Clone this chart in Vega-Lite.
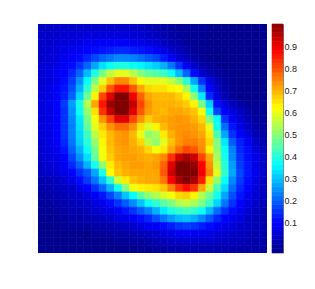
{"$schema":"https://vega.github.io/schema/vega-lite/v6.json","padding":{"left":38,"top":23,"right":0,"bottom":0},"autosize":{"type":"pad"},"background":"white","spacing":4,"config":{"view":{"stroke":null}},"resolve":{"scale":{"color":"independent"}},"hconcat":[{"width":229,"height":229,"data":{"values":[
{"x":0,"y":0,"v":0.02},{"x":1,"y":0,"v":0.02},{"x":2,"y":0,"v":0.03},{"x":3,"y":0,"v":0.03},{"x":4,"y":0,"v":0.03},{"x":5,"y":0,"v":0.03},{"x":6,"y":0,"v":0.03},{"x":7,"y":0,"v":0.03},{"x":8,"y":0,"v":0.03},{"x":9,"y":0,"v":0.03},{"x":10,"y":0,"v":0.03},{"x":11,"y":0,"v":0.03},{"x":12,"y":0,"v":0.03},{"x":13,"y":0,"v":0.02},{"x":14,"y":0,"v":0.01},{"x":15,"y":0,"v":0},{"x":16,"y":0,"v":-0.01},{"x":17,"y":0,"v":-0.02},{"x":18,"y":0,"v":-0.03},{"x":19,"y":0,"v":-0.03},{"x":20,"y":0,"v":-0.03},{"x":21,"y":0,"v":-0.03},{"x":22,"y":0,"v":-0.04},{"x":23,"y":0,"v":-0.04},{"x":24,"y":0,"v":-0.04},{"x":25,"y":0,"v":-0.04},{"x":26,"y":0,"v":-0.04},{"x":27,"y":0,"v":-0.04},{"x":28,"y":0,"v":-0.04},{"x":29,"y":0,"v":-0.04},
{"x":0,"y":1,"v":0.03},{"x":1,"y":1,"v":0.03},{"x":2,"y":1,"v":0.03},{"x":3,"y":1,"v":0.04},{"x":4,"y":1,"v":0.04},{"x":5,"y":1,"v":0.04},{"x":6,"y":1,"v":0.05},{"x":7,"y":1,"v":0.05},{"x":8,"y":1,"v":0.05},{"x":9,"y":1,"v":0.05},{"x":10,"y":1,"v":0.05},{"x":11,"y":1,"v":0.05},{"x":12,"y":1,"v":0.04},{"x":13,"y":1,"v":0.04},{"x":14,"y":1,"v":0.03},{"x":15,"y":1,"v":0.02},{"x":16,"y":1,"v":0},{"x":17,"y":1,"v":-0.01},{"x":18,"y":1,"v":-0.02},{"x":19,"y":1,"v":-0.03},{"x":20,"y":1,"v":-0.03},{"x":21,"y":1,"v":-0.03},{"x":22,"y":1,"v":-0.04},{"x":23,"y":1,"v":-0.04},{"x":24,"y":1,"v":-0.04},{"x":25,"y":1,"v":-0.04},{"x":26,"y":1,"v":-0.04},{"x":27,"y":1,"v":-0.04},{"x":28,"y":1,"v":-0.04},{"x":29,"y":1,"v":-0.04},
{"x":0,"y":2,"v":0.03},{"x":1,"y":2,"v":0.03},{"x":2,"y":2,"v":0.04},{"x":3,"y":2,"v":0.05},{"x":4,"y":2,"v":0.05},{"x":5,"y":2,"v":0.06},{"x":6,"y":2,"v":0.07},{"x":7,"y":2,"v":0.07},{"x":8,"y":2,"v":0.08},{"x":9,"y":2,"v":0.08},{"x":10,"y":2,"v":0.08},{"x":11,"y":2,"v":0.08},{"x":12,"y":2,"v":0.07},{"x":13,"y":2,"v":0.06},{"x":14,"y":2,"v":0.05},{"x":15,"y":2,"v":0.04},{"x":16,"y":2,"v":0.02},{"x":17,"y":2,"v":0},{"x":18,"y":2,"v":-0.01},{"x":19,"y":2,"v":-0.03},{"x":20,"y":2,"v":-0.03},{"x":21,"y":2,"v":-0.04},{"x":22,"y":2,"v":-0.04},{"x":23,"y":2,"v":-0.04},{"x":24,"y":2,"v":-0.04},{"x":25,"y":2,"v":-0.04},{"x":26,"y":2,"v":-0.04},{"x":27,"y":2,"v":-0.04},{"x":28,"y":2,"v":-0.04},{"x":29,"y":2,"v":-0.04},
{"x":0,"y":3,"v":0.03},{"x":1,"y":3,"v":0.04},{"x":2,"y":3,"v":0.05},{"x":3,"y":3,"v":0.06},{"x":4,"y":3,"v":0.07},{"x":5,"y":3,"v":0.08},{"x":6,"y":3,"v":0.09},{"x":7,"y":3,"v":0.1},{"x":8,"y":3,"v":0.11},{"x":9,"y":3,"v":0.12},{"x":10,"y":3,"v":0.13},{"x":11,"y":3,"v":0.13},{"x":12,"y":3,"v":0.12},{"x":13,"y":3,"v":0.11},{"x":14,"y":3,"v":0.1},{"x":15,"y":3,"v":0.08},{"x":16,"y":3,"v":0.06},{"x":17,"y":3,"v":0.03},{"x":18,"y":3,"v":0.01},{"x":19,"y":3,"v":-0.01},{"x":20,"y":3,"v":-0.03},{"x":21,"y":3,"v":-0.03},{"x":22,"y":3,"v":-0.04},{"x":23,"y":3,"v":-0.04},{"x":24,"y":3,"v":-0.04},{"x":25,"y":3,"v":-0.04},{"x":26,"y":3,"v":-0.04},{"x":27,"y":3,"v":-0.04},{"x":28,"y":3,"v":-0.04},{"x":29,"y":3,"v":-0.04},
{"x":0,"y":4,"v":0.03},{"x":1,"y":4,"v":0.04},{"x":2,"y":4,"v":0.05},{"x":3,"y":4,"v":0.07},{"x":4,"y":4,"v":0.08},{"x":5,"y":4,"v":0.1},{"x":6,"y":4,"v":0.13},{"x":7,"y":4,"v":0.16},{"x":8,"y":4,"v":0.19},{"x":9,"y":4,"v":0.21},{"x":10,"y":4,"v":0.23},{"x":11,"y":4,"v":0.23},{"x":12,"y":4,"v":0.22},{"x":13,"y":4,"v":0.2},{"x":14,"y":4,"v":0.18},{"x":15,"y":4,"v":0.16},{"x":16,"y":4,"v":0.12},{"x":17,"y":4,"v":0.08},{"x":18,"y":4,"v":0.04},{"x":19,"y":4,"v":0.01},{"x":20,"y":4,"v":-0.01},{"x":21,"y":4,"v":-0.03},{"x":22,"y":4,"v":-0.04},{"x":23,"y":4,"v":-0.04},{"x":24,"y":4,"v":-0.04},{"x":25,"y":4,"v":-0.04},{"x":26,"y":4,"v":-0.04},{"x":27,"y":4,"v":-0.04},{"x":28,"y":4,"v":-0.04},{"x":29,"y":4,"v":-0.04},
{"x":0,"y":5,"v":0.04},{"x":1,"y":5,"v":0.05},{"x":2,"y":5,"v":0.06},{"x":3,"y":5,"v":0.08},{"x":4,"y":5,"v":0.1},{"x":5,"y":5,"v":0.14},{"x":6,"y":5,"v":0.19},{"x":7,"y":5,"v":0.26},{"x":8,"y":5,"v":0.32},{"x":9,"y":5,"v":0.36},{"x":10,"y":5,"v":0.38},{"x":11,"y":5,"v":0.38},{"x":12,"y":5,"v":0.36},{"x":13,"y":5,"v":0.34},{"x":14,"y":5,"v":0.32},{"x":15,"y":5,"v":0.3},{"x":16,"y":5,"v":0.27},{"x":17,"y":5,"v":0.21},{"x":18,"y":5,"v":0.14},{"x":19,"y":5,"v":0.08},{"x":20,"y":5,"v":0.03},{"x":21,"y":5,"v":0},{"x":22,"y":5,"v":-0.02},{"x":23,"y":5,"v":-0.03},{"x":24,"y":5,"v":-0.04},{"x":25,"y":5,"v":-0.04},{"x":26,"y":5,"v":-0.04},{"x":27,"y":5,"v":-0.04},{"x":28,"y":5,"v":-0.04},{"x":29,"y":5,"v":-0.04},
{"x":0,"y":6,"v":0.04},{"x":1,"y":6,"v":0.05},{"x":2,"y":6,"v":0.07},{"x":3,"y":6,"v":0.09},{"x":4,"y":6,"v":0.13},{"x":5,"y":6,"v":0.19},{"x":6,"y":6,"v":0.28},{"x":7,"y":6,"v":0.38},{"x":8,"y":6,"v":0.47},{"x":9,"y":6,"v":0.54},{"x":10,"y":6,"v":0.58},{"x":11,"y":6,"v":0.58},{"x":12,"y":6,"v":0.54},{"x":13,"y":6,"v":0.49},{"x":14,"y":6,"v":0.45},{"x":15,"y":6,"v":0.43},{"x":16,"y":6,"v":0.41},{"x":17,"y":6,"v":0.36},{"x":18,"y":6,"v":0.28},{"x":19,"y":6,"v":0.19},{"x":20,"y":6,"v":0.1},{"x":21,"y":6,"v":0.04},{"x":22,"y":6,"v":0},{"x":23,"y":6,"v":-0.02},{"x":24,"y":6,"v":-0.03},{"x":25,"y":6,"v":-0.04},{"x":26,"y":6,"v":-0.04},{"x":27,"y":6,"v":-0.04},{"x":28,"y":6,"v":-0.04},{"x":29,"y":6,"v":-0.04},
{"x":0,"y":7,"v":0.04},{"x":1,"y":7,"v":0.05},{"x":2,"y":7,"v":0.07},{"x":3,"y":7,"v":0.1},{"x":4,"y":7,"v":0.15},{"x":5,"y":7,"v":0.24},{"x":6,"y":7,"v":0.35},{"x":7,"y":7,"v":0.48},{"x":8,"y":7,"v":0.58},{"x":9,"y":7,"v":0.67},{"x":10,"y":7,"v":0.73},{"x":11,"y":7,"v":0.73},{"x":12,"y":7,"v":0.67},{"x":13,"y":7,"v":0.6},{"x":14,"y":7,"v":0.58},{"x":15,"y":7,"v":0.58},{"x":16,"y":7,"v":0.58},{"x":17,"y":7,"v":0.55},{"x":18,"y":7,"v":0.49},{"x":19,"y":7,"v":0.39},{"x":20,"y":7,"v":0.26},{"x":21,"y":7,"v":0.14},{"x":22,"y":7,"v":0.06},{"x":23,"y":7,"v":0.01},{"x":24,"y":7,"v":-0.02},{"x":25,"y":7,"v":-0.03},{"x":26,"y":7,"v":-0.04},{"x":27,"y":7,"v":-0.04},{"x":28,"y":7,"v":-0.04},{"x":29,"y":7,"v":-0.04},
{"x":0,"y":8,"v":0.04},{"x":1,"y":8,"v":0.06},{"x":2,"y":8,"v":0.08},{"x":3,"y":8,"v":0.11},{"x":4,"y":8,"v":0.17},{"x":5,"y":8,"v":0.27},{"x":6,"y":8,"v":0.4},{"x":7,"y":8,"v":0.54},{"x":8,"y":8,"v":0.66},{"x":9,"y":8,"v":0.78},{"x":10,"y":8,"v":0.85},{"x":11,"y":8,"v":0.85},{"x":12,"y":8,"v":0.78},{"x":13,"y":8,"v":0.7},{"x":14,"y":8,"v":0.65},{"x":15,"y":8,"v":0.64},{"x":16,"y":8,"v":0.64},{"x":17,"y":8,"v":0.62},{"x":18,"y":8,"v":0.61},{"x":19,"y":8,"v":0.52},{"x":20,"y":8,"v":0.37},{"x":21,"y":8,"v":0.22},{"x":22,"y":8,"v":0.09},{"x":23,"y":8,"v":0.03},{"x":24,"y":8,"v":-0.01},{"x":25,"y":8,"v":-0.03},{"x":26,"y":8,"v":-0.04},{"x":27,"y":8,"v":-0.04},{"x":28,"y":8,"v":-0.04},{"x":29,"y":8,"v":-0.04},
{"x":0,"y":9,"v":0.05},{"x":1,"y":9,"v":0.06},{"x":2,"y":9,"v":0.08},{"x":3,"y":9,"v":0.12},{"x":4,"y":9,"v":0.19},{"x":5,"y":9,"v":0.31},{"x":6,"y":9,"v":0.46},{"x":7,"y":9,"v":0.62},{"x":8,"y":9,"v":0.8},{"x":9,"y":9,"v":0.9},{"x":10,"y":9,"v":1},{"x":11,"y":9,"v":1},{"x":12,"y":9,"v":0.88},{"x":13,"y":9,"v":0.77},{"x":14,"y":9,"v":0.7},{"x":15,"y":9,"v":0.68},{"x":16,"y":9,"v":0.68},{"x":17,"y":9,"v":0.68},{"x":18,"y":9,"v":0.66},{"x":19,"y":9,"v":0.62},{"x":20,"y":9,"v":0.49},{"x":21,"y":9,"v":0.33},{"x":22,"y":9,"v":0.13},{"x":23,"y":9,"v":0.05},{"x":24,"y":9,"v":0},{"x":25,"y":9,"v":-0.03},{"x":26,"y":9,"v":-0.04},{"x":27,"y":9,"v":-0.04},{"x":28,"y":9,"v":-0.04},{"x":29,"y":9,"v":-0.04},
{"x":0,"y":10,"v":0.05},{"x":1,"y":10,"v":0.06},{"x":2,"y":10,"v":0.09},{"x":3,"y":10,"v":0.15},{"x":4,"y":10,"v":0.25},{"x":5,"y":10,"v":0.37},{"x":6,"y":10,"v":0.53},{"x":7,"y":10,"v":0.7},{"x":8,"y":10,"v":0.85},{"x":9,"y":10,"v":0.97},{"x":10,"y":10,"v":1},{"x":11,"y":10,"v":1},{"x":12,"y":10,"v":0.93},{"x":13,"y":10,"v":0.8},{"x":14,"y":10,"v":0.72},{"x":15,"y":10,"v":0.69},{"x":16,"y":10,"v":0.69},{"x":17,"y":10,"v":0.69},{"x":18,"y":10,"v":0.68},{"x":19,"y":10,"v":0.66},{"x":20,"y":10,"v":0.62},{"x":21,"y":10,"v":0.47},{"x":22,"y":10,"v":0.3},{"x":23,"y":10,"v":0.1},{"x":24,"y":10,"v":0.05},{"x":25,"y":10,"v":0.01},{"x":26,"y":10,"v":-0.01},{"x":27,"y":10,"v":-0.03},{"x":28,"y":10,"v":-0.03},{"x":29,"y":10,"v":-0.03},
{"x":0,"y":11,"v":0.05},{"x":1,"y":11,"v":0.06},{"x":2,"y":11,"v":0.09},{"x":3,"y":11,"v":0.14},{"x":4,"y":11,"v":0.24},{"x":5,"y":11,"v":0.36},{"x":6,"y":11,"v":0.5},{"x":7,"y":11,"v":0.64},{"x":8,"y":11,"v":0.82},{"x":9,"y":11,"v":0.93},{"x":10,"y":11,"v":1},{"x":11,"y":11,"v":1},{"x":12,"y":11,"v":0.9},{"x":13,"y":11,"v":0.78},{"x":14,"y":11,"v":0.71},{"x":15,"y":11,"v":0.69},{"x":16,"y":11,"v":0.68},{"x":17,"y":11,"v":0.7},{"x":18,"y":11,"v":0.7},{"x":19,"y":11,"v":0.69},{"x":20,"y":11,"v":0.67},{"x":21,"y":11,"v":0.6},{"x":22,"y":11,"v":0.37},{"x":23,"y":11,"v":0.16},{"x":24,"y":11,"v":0.09},{"x":25,"y":11,"v":0.05},{"x":26,"y":11,"v":0.02},{"x":27,"y":11,"v":-0.01},{"x":28,"y":11,"v":-0.03},{"x":29,"y":11,"v":-0.03},
{"x":0,"y":12,"v":0.05},{"x":1,"y":12,"v":0.06},{"x":2,"y":12,"v":0.09},{"x":3,"y":12,"v":0.14},{"x":4,"y":12,"v":0.23},{"x":5,"y":12,"v":0.33},{"x":6,"y":12,"v":0.47},{"x":7,"y":12,"v":0.6},{"x":8,"y":12,"v":0.72},{"x":9,"y":12,"v":0.8},{"x":10,"y":12,"v":0.9},{"x":11,"y":12,"v":0.9},{"x":12,"y":12,"v":0.8},{"x":13,"y":12,"v":0.72},{"x":14,"y":12,"v":0.66},{"x":15,"y":12,"v":0.69},{"x":16,"y":12,"v":0.7},{"x":17,"y":12,"v":0.71},{"x":18,"y":12,"v":0.72},{"x":19,"y":12,"v":0.71},{"x":20,"y":12,"v":0.69},{"x":21,"y":12,"v":0.65},{"x":22,"y":12,"v":0.48},{"x":23,"y":12,"v":0.35},{"x":24,"y":12,"v":0.14},{"x":25,"y":12,"v":0.08},{"x":26,"y":12,"v":0.04},{"x":27,"y":12,"v":0.01},{"x":28,"y":12,"v":-0.02},{"x":29,"y":12,"v":-0.03},
{"x":0,"y":13,"v":0.05},{"x":1,"y":13,"v":0.06},{"x":2,"y":13,"v":0.09},{"x":3,"y":13,"v":0.14},{"x":4,"y":13,"v":0.22},{"x":5,"y":13,"v":0.32},{"x":6,"y":13,"v":0.45},{"x":7,"y":13,"v":0.58},{"x":8,"y":13,"v":0.66},{"x":9,"y":13,"v":0.72},{"x":10,"y":13,"v":0.76},{"x":11,"y":13,"v":0.76},{"x":12,"y":13,"v":0.72},{"x":13,"y":13,"v":0.64},{"x":14,"y":13,"v":0.57},{"x":15,"y":13,"v":0.62},{"x":16,"y":13,"v":0.68},{"x":17,"y":13,"v":0.71},{"x":18,"y":13,"v":0.72},{"x":19,"y":13,"v":0.72},{"x":20,"y":13,"v":0.71},{"x":21,"y":13,"v":0.68},{"x":22,"y":13,"v":0.58},{"x":23,"y":13,"v":0.37},{"x":24,"y":13,"v":0.2},{"x":25,"y":13,"v":0.11},{"x":26,"y":13,"v":0.06},{"x":27,"y":13,"v":0.03},{"x":28,"y":13,"v":-0.01},{"x":29,"y":13,"v":-0.02},
{"x":0,"y":14,"v":0.05},{"x":1,"y":14,"v":0.06},{"x":2,"y":14,"v":0.09},{"x":3,"y":14,"v":0.14},{"x":4,"y":14,"v":0.22},{"x":5,"y":14,"v":0.31},{"x":6,"y":14,"v":0.41},{"x":7,"y":14,"v":0.54},{"x":8,"y":14,"v":0.63},{"x":9,"y":14,"v":0.68},{"x":10,"y":14,"v":0.71},{"x":11,"y":14,"v":0.72},{"x":12,"y":14,"v":0.68},{"x":13,"y":14,"v":0.59},{"x":14,"y":14,"v":0.5},{"x":15,"y":14,"v":0.52},{"x":16,"y":14,"v":0.63},{"x":17,"y":14,"v":0.69},{"x":18,"y":14,"v":0.72},{"x":19,"y":14,"v":0.73},{"x":20,"y":14,"v":0.72},{"x":21,"y":14,"v":0.7},{"x":22,"y":14,"v":0.63},{"x":23,"y":14,"v":0.43},{"x":24,"y":14,"v":0.26},{"x":25,"y":14,"v":0.14},{"x":26,"y":14,"v":0.09},{"x":27,"y":14,"v":0.05},{"x":28,"y":14,"v":0.01},{"x":29,"y":14,"v":-0.01},
{"x":0,"y":15,"v":0.04},{"x":1,"y":15,"v":0.06},{"x":2,"y":15,"v":0.08},{"x":3,"y":15,"v":0.13},{"x":4,"y":15,"v":0.21},{"x":5,"y":15,"v":0.3},{"x":6,"y":15,"v":0.39},{"x":7,"y":15,"v":0.5},{"x":8,"y":15,"v":0.62},{"x":9,"y":15,"v":0.68},{"x":10,"y":15,"v":0.71},{"x":11,"y":15,"v":0.72},{"x":12,"y":15,"v":0.69},{"x":13,"y":15,"v":0.65},{"x":14,"y":15,"v":0.54},{"x":15,"y":15,"v":0.5},{"x":16,"y":15,"v":0.58},{"x":17,"y":15,"v":0.67},{"x":18,"y":15,"v":0.72},{"x":19,"y":15,"v":0.74},{"x":20,"y":15,"v":0.74},{"x":21,"y":15,"v":0.72},{"x":22,"y":15,"v":0.65},{"x":23,"y":15,"v":0.48},{"x":24,"y":15,"v":0.33},{"x":25,"y":15,"v":0.18},{"x":26,"y":15,"v":0.12},{"x":27,"y":15,"v":0.08},{"x":28,"y":15,"v":0.03},{"x":29,"y":15,"v":0},
{"x":0,"y":16,"v":0.04},{"x":1,"y":16,"v":0.05},{"x":2,"y":16,"v":0.07},{"x":3,"y":16,"v":0.11},{"x":4,"y":16,"v":0.19},{"x":5,"y":16,"v":0.27},{"x":6,"y":16,"v":0.36},{"x":7,"y":16,"v":0.47},{"x":8,"y":16,"v":0.6},{"x":9,"y":16,"v":0.67},{"x":10,"y":16,"v":0.7},{"x":11,"y":16,"v":0.71},{"x":12,"y":16,"v":0.7},{"x":13,"y":16,"v":0.69},{"x":14,"y":16,"v":0.65},{"x":15,"y":16,"v":0.6},{"x":16,"y":16,"v":0.63},{"x":17,"y":16,"v":0.7},{"x":18,"y":16,"v":0.76},{"x":19,"y":16,"v":0.8},{"x":20,"y":16,"v":0.78},{"x":21,"y":16,"v":0.73},{"x":22,"y":16,"v":0.62},{"x":23,"y":16,"v":0.5},{"x":24,"y":16,"v":0.36},{"x":25,"y":16,"v":0.22},{"x":26,"y":16,"v":0.13},{"x":27,"y":16,"v":0.1},{"x":28,"y":16,"v":0.05},{"x":29,"y":16,"v":0.02},
{"x":0,"y":17,"v":0.03},{"x":1,"y":17,"v":0.05},{"x":2,"y":17,"v":0.06},{"x":3,"y":17,"v":0.09},{"x":4,"y":17,"v":0.16},{"x":5,"y":17,"v":0.24},{"x":6,"y":17,"v":0.32},{"x":7,"y":17,"v":0.45},{"x":8,"y":17,"v":0.6},{"x":9,"y":17,"v":0.66},{"x":10,"y":17,"v":0.7},{"x":11,"y":17,"v":0.71},{"x":12,"y":17,"v":0.71},{"x":13,"y":17,"v":0.7},{"x":14,"y":17,"v":0.69},{"x":15,"y":17,"v":0.7},{"x":16,"y":17,"v":0.73},{"x":17,"y":17,"v":0.82},{"x":18,"y":17,"v":0.92},{"x":19,"y":17,"v":0.96},{"x":20,"y":17,"v":0.92},{"x":21,"y":17,"v":0.8},{"x":22,"y":17,"v":0.7},{"x":23,"y":17,"v":0.52},{"x":24,"y":17,"v":0.37},{"x":25,"y":17,"v":0.23},{"x":26,"y":17,"v":0.14},{"x":27,"y":17,"v":0.1},{"x":28,"y":17,"v":0.06},{"x":29,"y":17,"v":0.03},
{"x":0,"y":18,"v":0.03},{"x":1,"y":18,"v":0.04},{"x":2,"y":18,"v":0.05},{"x":3,"y":18,"v":0.08},{"x":4,"y":18,"v":0.13},{"x":5,"y":18,"v":0.19},{"x":6,"y":18,"v":0.27},{"x":7,"y":18,"v":0.37},{"x":8,"y":18,"v":0.5},{"x":9,"y":18,"v":0.63},{"x":10,"y":18,"v":0.68},{"x":11,"y":18,"v":0.7},{"x":12,"y":18,"v":0.71},{"x":13,"y":18,"v":0.71},{"x":14,"y":18,"v":0.7},{"x":15,"y":18,"v":0.71},{"x":16,"y":18,"v":0.77},{"x":17,"y":18,"v":0.9},{"x":18,"y":18,"v":1},{"x":19,"y":18,"v":1},{"x":20,"y":18,"v":0.98},{"x":21,"y":18,"v":0.87},{"x":22,"y":18,"v":0.72},{"x":23,"y":18,"v":0.55},{"x":24,"y":18,"v":0.39},{"x":25,"y":18,"v":0.25},{"x":26,"y":18,"v":0.15},{"x":27,"y":18,"v":0.11},{"x":28,"y":18,"v":0.06},{"x":29,"y":18,"v":0.03},
{"x":0,"y":19,"v":0.02},{"x":1,"y":19,"v":0.03},{"x":2,"y":19,"v":0.04},{"x":3,"y":19,"v":0.06},{"x":4,"y":19,"v":0.09},{"x":5,"y":19,"v":0.14},{"x":6,"y":19,"v":0.18},{"x":7,"y":19,"v":0.26},{"x":8,"y":19,"v":0.38},{"x":9,"y":19,"v":0.61},{"x":10,"y":19,"v":0.67},{"x":11,"y":19,"v":0.69},{"x":12,"y":19,"v":0.7},{"x":13,"y":19,"v":0.7},{"x":14,"y":19,"v":0.7},{"x":15,"y":19,"v":0.7},{"x":16,"y":19,"v":0.78},{"x":17,"y":19,"v":0.92},{"x":18,"y":19,"v":1},{"x":19,"y":19,"v":1},{"x":20,"y":19,"v":1},{"x":21,"y":19,"v":0.88},{"x":22,"y":19,"v":0.74},{"x":23,"y":19,"v":0.58},{"x":24,"y":19,"v":0.4},{"x":25,"y":19,"v":0.26},{"x":26,"y":19,"v":0.16},{"x":27,"y":19,"v":0.11},{"x":28,"y":19,"v":0.07},{"x":29,"y":19,"v":0.03},
{"x":0,"y":20,"v":0},{"x":1,"y":20,"v":0.01},{"x":2,"y":20,"v":0.02},{"x":3,"y":20,"v":0.04},{"x":4,"y":20,"v":0.06},{"x":5,"y":20,"v":0.1},{"x":6,"y":20,"v":0.15},{"x":7,"y":20,"v":0.21},{"x":8,"y":20,"v":0.29},{"x":9,"y":20,"v":0.4},{"x":10,"y":20,"v":0.56},{"x":11,"y":20,"v":0.63},{"x":12,"y":20,"v":0.67},{"x":13,"y":20,"v":0.69},{"x":14,"y":20,"v":0.7},{"x":15,"y":20,"v":0.7},{"x":16,"y":20,"v":0.75},{"x":17,"y":20,"v":0.87},{"x":18,"y":20,"v":0.96},{"x":19,"y":20,"v":1},{"x":20,"y":20,"v":0.96},{"x":21,"y":20,"v":0.84},{"x":22,"y":20,"v":0.64},{"x":23,"y":20,"v":0.5},{"x":24,"y":20,"v":0.36},{"x":25,"y":20,"v":0.23},{"x":26,"y":20,"v":0.15},{"x":27,"y":20,"v":0.1},{"x":28,"y":20,"v":0.06},{"x":29,"y":20,"v":0.03},
{"x":0,"y":21,"v":-0.01},{"x":1,"y":21,"v":0},{"x":2,"y":21,"v":0.01},{"x":3,"y":21,"v":0.02},{"x":4,"y":21,"v":0.03},{"x":5,"y":21,"v":0.06},{"x":6,"y":21,"v":0.09},{"x":7,"y":21,"v":0.14},{"x":8,"y":21,"v":0.19},{"x":9,"y":21,"v":0.27},{"x":10,"y":21,"v":0.37},{"x":11,"y":21,"v":0.48},{"x":12,"y":21,"v":0.6},{"x":13,"y":21,"v":0.62},{"x":14,"y":21,"v":0.63},{"x":15,"y":21,"v":0.64},{"x":16,"y":21,"v":0.67},{"x":17,"y":21,"v":0.74},{"x":18,"y":21,"v":0.82},{"x":19,"y":21,"v":0.86},{"x":20,"y":21,"v":0.82},{"x":21,"y":21,"v":0.7},{"x":22,"y":21,"v":0.56},{"x":23,"y":21,"v":0.42},{"x":24,"y":21,"v":0.31},{"x":25,"y":21,"v":0.2},{"x":26,"y":21,"v":0.13},{"x":27,"y":21,"v":0.09},{"x":28,"y":21,"v":0.05},{"x":29,"y":21,"v":0.02},
{"x":0,"y":22,"v":-0.02},{"x":1,"y":22,"v":-0.01},{"x":2,"y":22,"v":0},{"x":3,"y":22,"v":0.01},{"x":4,"y":22,"v":0.02},{"x":5,"y":22,"v":0.03},{"x":6,"y":22,"v":0.05},{"x":7,"y":22,"v":0.08},{"x":8,"y":22,"v":0.11},{"x":9,"y":22,"v":0.16},{"x":10,"y":22,"v":0.22},{"x":11,"y":22,"v":0.29},{"x":12,"y":22,"v":0.35},{"x":13,"y":22,"v":0.44},{"x":14,"y":22,"v":0.5},{"x":15,"y":22,"v":0.53},{"x":16,"y":22,"v":0.57},{"x":17,"y":22,"v":0.6},{"x":18,"y":22,"v":0.65},{"x":19,"y":22,"v":0.66},{"x":20,"y":22,"v":0.62},{"x":21,"y":22,"v":0.53},{"x":22,"y":22,"v":0.46},{"x":23,"y":22,"v":0.37},{"x":24,"y":22,"v":0.26},{"x":25,"y":22,"v":0.17},{"x":26,"y":22,"v":0.11},{"x":27,"y":22,"v":0.07},{"x":28,"y":22,"v":0.04},{"x":29,"y":22,"v":0.02},
{"x":0,"y":23,"v":-0.03},{"x":1,"y":23,"v":-0.02},{"x":2,"y":23,"v":-0.01},{"x":3,"y":23,"v":0},{"x":4,"y":23,"v":0.01},{"x":5,"y":23,"v":0.02},{"x":6,"y":23,"v":0.03},{"x":7,"y":23,"v":0.05},{"x":8,"y":23,"v":0.07},{"x":9,"y":23,"v":0.1},{"x":10,"y":23,"v":0.14},{"x":11,"y":23,"v":0.18},{"x":12,"y":23,"v":0.23},{"x":13,"y":23,"v":0.29},{"x":14,"y":23,"v":0.36},{"x":15,"y":23,"v":0.4},{"x":16,"y":23,"v":0.44},{"x":17,"y":23,"v":0.48},{"x":18,"y":23,"v":0.53},{"x":19,"y":23,"v":0.55},{"x":20,"y":23,"v":0.52},{"x":21,"y":23,"v":0.48},{"x":22,"y":23,"v":0.41},{"x":23,"y":23,"v":0.31},{"x":24,"y":23,"v":0.21},{"x":25,"y":23,"v":0.14},{"x":26,"y":23,"v":0.09},{"x":27,"y":23,"v":0.06},{"x":28,"y":23,"v":0.03},{"x":29,"y":23,"v":0.01},
{"x":0,"y":24,"v":-0.03},{"x":1,"y":24,"v":-0.03},{"x":2,"y":24,"v":-0.02},{"x":3,"y":24,"v":-0.01},{"x":4,"y":24,"v":0},{"x":5,"y":24,"v":0},{"x":6,"y":24,"v":0.01},{"x":7,"y":24,"v":0.03},{"x":8,"y":24,"v":0.04},{"x":9,"y":24,"v":0.06},{"x":10,"y":24,"v":0.08},{"x":11,"y":24,"v":0.11},{"x":12,"y":24,"v":0.14},{"x":13,"y":24,"v":0.18},{"x":14,"y":24,"v":0.22},{"x":15,"y":24,"v":0.27},{"x":16,"y":24,"v":0.33},{"x":17,"y":24,"v":0.38},{"x":18,"y":24,"v":0.4},{"x":19,"y":24,"v":0.42},{"x":20,"y":24,"v":0.4},{"x":21,"y":24,"v":0.36},{"x":22,"y":24,"v":0.28},{"x":23,"y":24,"v":0.2},{"x":24,"y":24,"v":0.14},{"x":25,"y":24,"v":0.1},{"x":26,"y":24,"v":0.07},{"x":27,"y":24,"v":0.04},{"x":28,"y":24,"v":0.02},{"x":29,"y":24,"v":0},
{"x":0,"y":25,"v":-0.04},{"x":1,"y":25,"v":-0.03},{"x":2,"y":25,"v":-0.03},{"x":3,"y":25,"v":-0.02},{"x":4,"y":25,"v":-0.01},{"x":5,"y":25,"v":-0.01},{"x":6,"y":25,"v":0},{"x":7,"y":25,"v":0.01},{"x":8,"y":25,"v":0.02},{"x":9,"y":25,"v":0.03},{"x":10,"y":25,"v":0.05},{"x":11,"y":25,"v":0.06},{"x":12,"y":25,"v":0.08},{"x":13,"y":25,"v":0.1},{"x":14,"y":25,"v":0.13},{"x":15,"y":25,"v":0.17},{"x":16,"y":25,"v":0.21},{"x":17,"y":25,"v":0.25},{"x":18,"y":25,"v":0.28},{"x":19,"y":25,"v":0.29},{"x":20,"y":25,"v":0.27},{"x":21,"y":25,"v":0.23},{"x":22,"y":25,"v":0.18},{"x":23,"y":25,"v":0.13},{"x":24,"y":25,"v":0.09},{"x":25,"y":25,"v":0.07},{"x":26,"y":25,"v":0.05},{"x":27,"y":25,"v":0.03},{"x":28,"y":25,"v":0.01},{"x":29,"y":25,"v":0},
{"x":0,"y":26,"v":-0.04},{"x":1,"y":26,"v":-0.04},{"x":2,"y":26,"v":-0.04},{"x":3,"y":26,"v":-0.03},{"x":4,"y":26,"v":-0.03},{"x":5,"y":26,"v":-0.02},{"x":6,"y":26,"v":-0.02},{"x":7,"y":26,"v":-0.01},{"x":8,"y":26,"v":-0.01},{"x":9,"y":26,"v":0},{"x":10,"y":26,"v":0.01},{"x":11,"y":26,"v":0.02},{"x":12,"y":26,"v":0.03},{"x":13,"y":26,"v":0.05},{"x":14,"y":26,"v":0.07},{"x":15,"y":26,"v":0.08},{"x":16,"y":26,"v":0.1},{"x":17,"y":26,"v":0.12},{"x":18,"y":26,"v":0.14},{"x":19,"y":26,"v":0.15},{"x":20,"y":26,"v":0.14},{"x":21,"y":26,"v":0.12},{"x":22,"y":26,"v":0.1},{"x":23,"y":26,"v":0.08},{"x":24,"y":26,"v":0.06},{"x":25,"y":26,"v":0.05},{"x":26,"y":26,"v":0.03},{"x":27,"y":26,"v":0.02},{"x":28,"y":26,"v":0.01},{"x":29,"y":26,"v":0},
{"x":0,"y":27,"v":-0.04},{"x":1,"y":27,"v":-0.04},{"x":2,"y":27,"v":-0.04},{"x":3,"y":27,"v":-0.04},{"x":4,"y":27,"v":-0.04},{"x":5,"y":27,"v":-0.04},{"x":6,"y":27,"v":-0.04},{"x":7,"y":27,"v":-0.03},{"x":8,"y":27,"v":-0.03},{"x":9,"y":27,"v":-0.02},{"x":10,"y":27,"v":-0.01},{"x":11,"y":27,"v":-0.01},{"x":12,"y":27,"v":0},{"x":13,"y":27,"v":0.01},{"x":14,"y":27,"v":0.02},{"x":15,"y":27,"v":0.03},{"x":16,"y":27,"v":0.05},{"x":17,"y":27,"v":0.06},{"x":18,"y":27,"v":0.07},{"x":19,"y":27,"v":0.08},{"x":20,"y":27,"v":0.07},{"x":21,"y":27,"v":0.07},{"x":22,"y":27,"v":0.06},{"x":23,"y":27,"v":0.05},{"x":24,"y":27,"v":0.04},{"x":25,"y":27,"v":0.03},{"x":26,"y":27,"v":0.02},{"x":27,"y":27,"v":0.01},{"x":28,"y":27,"v":0},{"x":29,"y":27,"v":0},
{"x":0,"y":28,"v":-0.04},{"x":1,"y":28,"v":-0.04},{"x":2,"y":28,"v":-0.04},{"x":3,"y":28,"v":-0.04},{"x":4,"y":28,"v":-0.04},{"x":5,"y":28,"v":-0.04},{"x":6,"y":28,"v":-0.04},{"x":7,"y":28,"v":-0.04},{"x":8,"y":28,"v":-0.04},{"x":9,"y":28,"v":-0.04},{"x":10,"y":28,"v":-0.03},{"x":11,"y":28,"v":-0.03},{"x":12,"y":28,"v":-0.02},{"x":13,"y":28,"v":-0.02},{"x":14,"y":28,"v":-0.01},{"x":15,"y":28,"v":0},{"x":16,"y":28,"v":0.01},{"x":17,"y":28,"v":0.02},{"x":18,"y":28,"v":0.03},{"x":19,"y":28,"v":0.03},{"x":20,"y":28,"v":0.03},{"x":21,"y":28,"v":0.03},{"x":22,"y":28,"v":0.03},{"x":23,"y":28,"v":0.02},{"x":24,"y":28,"v":0.02},{"x":25,"y":28,"v":0.01},{"x":26,"y":28,"v":0.01},{"x":27,"y":28,"v":0},{"x":28,"y":28,"v":0},{"x":29,"y":28,"v":-0.01},
{"x":0,"y":29,"v":-0.04},{"x":1,"y":29,"v":-0.04},{"x":2,"y":29,"v":-0.04},{"x":3,"y":29,"v":-0.04},{"x":4,"y":29,"v":-0.04},{"x":5,"y":29,"v":-0.04},{"x":6,"y":29,"v":-0.04},{"x":7,"y":29,"v":-0.04},{"x":8,"y":29,"v":-0.04},{"x":9,"y":29,"v":-0.04},{"x":10,"y":29,"v":-0.04},{"x":11,"y":29,"v":-0.04},{"x":12,"y":29,"v":-0.04},{"x":13,"y":29,"v":-0.03},{"x":14,"y":29,"v":-0.03},{"x":15,"y":29,"v":-0.02},{"x":16,"y":29,"v":-0.02},{"x":17,"y":29,"v":-0.01},{"x":18,"y":29,"v":-0.01},{"x":19,"y":29,"v":0},{"x":20,"y":29,"v":0},{"x":21,"y":29,"v":0},{"x":22,"y":29,"v":0},{"x":23,"y":29,"v":0},{"x":24,"y":29,"v":0},{"x":25,"y":29,"v":0},{"x":26,"y":29,"v":-0.01},{"x":27,"y":29,"v":-0.01},{"x":28,"y":29,"v":-0.01},{"x":29,"y":29,"v":-0.02}
]},"mark":{"type":"rect","strokeWidth":0.6,"clip":true},"encoding":{"x":{"field":"x","type":"ordinal","axis":null,"scale":{"paddingInner":0,"paddingOuter":0,"round":false}},"y":{"field":"y","type":"ordinal","axis":null,"scale":{"paddingInner":0,"paddingOuter":0,"round":false}},"color":{"field":"v","type":"quantitative","legend":null,"scale":{"domain":[-0.04,0.09,0.35,0.61,0.87,1],"range":["#00008f","#0000ff","#00ffff","#ffff00","#ff0000","#800000"],"interpolate":"rgb"}},"stroke":{"field":"v","type":"quantitative","legend":null,"scale":{"domain":[-0.04,0.09,0.35,0.61,0.87,1],"range":["#00008f","#0000ff","#00ffff","#ffff00","#ff0000","#800000"],"interpolate":"rgb"}}}},
{"width":11,"height":229,"data":{"values":[{"lo":-0.04,"hi":-0.02},{"lo":-0.02,"hi":0},{"lo":0,"hi":0.02},{"lo":0.02,"hi":0.04},{"lo":0.04,"hi":0.06},{"lo":0.06,"hi":0.08},{"lo":0.08,"hi":0.1},{"lo":0.1,"hi":0.12},{"lo":0.12,"hi":0.14},{"lo":0.14,"hi":0.16},{"lo":0.16,"hi":0.18},{"lo":0.18,"hi":0.2},{"lo":0.2,"hi":0.22},{"lo":0.22,"hi":0.24},{"lo":0.24,"hi":0.26},{"lo":0.26,"hi":0.28},{"lo":0.28,"hi":0.3},{"lo":0.3,"hi":0.32},{"lo":0.32,"hi":0.34},{"lo":0.34,"hi":0.36},{"lo":0.36,"hi":0.38},{"lo":0.38,"hi":0.4},{"lo":0.4,"hi":0.42},{"lo":0.42,"hi":0.44},{"lo":0.44,"hi":0.46},{"lo":0.46,"hi":0.48},{"lo":0.48,"hi":0.5},{"lo":0.5,"hi":0.52},{"lo":0.52,"hi":0.54},{"lo":0.54,"hi":0.56},{"lo":0.56,"hi":0.58},{"lo":0.58,"hi":0.6},{"lo":0.6,"hi":0.62},{"lo":0.62,"hi":0.64},{"lo":0.64,"hi":0.66},{"lo":0.66,"hi":0.68},{"lo":0.68,"hi":0.7},{"lo":0.7,"hi":0.72},{"lo":0.72,"hi":0.74},{"lo":0.74,"hi":0.76},{"lo":0.76,"hi":0.78},{"lo":0.78,"hi":0.8},{"lo":0.8,"hi":0.82},{"lo":0.82,"hi":0.84},{"lo":0.84,"hi":0.86},{"lo":0.86,"hi":0.88},{"lo":0.88,"hi":0.9},{"lo":0.9,"hi":0.92},{"lo":0.92,"hi":0.94},{"lo":0.94,"hi":0.96},{"lo":0.96,"hi":0.98},{"lo":0.98,"hi":1}]},"mark":{"type":"rect","strokeWidth":0.6},"encoding":{"y":{"field":"lo","type":"quantitative","scale":{"domain":[-0.04,1],"nice":false,"zero":false},"axis":{"orient":"right","values":[0.1,0.2,0.3,0.4,0.5,0.6,0.7,0.8,0.9],"title":null,"format":".1f","grid":false,"domainColor":"#808080","tickColor":"#404040","tickSize":-3,"labelPadding":4,"labelFont":"Liberation Sans","labelFontSize":9,"labelColor":"#202020"}},"y2":{"field":"hi"},"color":{"field":"lo","type":"quantitative","legend":null,"scale":{"domain":[-0.04,0.09,0.35,0.61,0.87,1],"range":["#00008f","#0000ff","#00ffff","#ffff00","#ff0000","#800000"],"interpolate":"rgb"}},"stroke":{"field":"lo","type":"quantitative","legend":null,"scale":{"domain":[-0.04,0.09,0.35,0.61,0.87,1],"range":["#00008f","#0000ff","#00ffff","#ffff00","#ff0000","#800000"],"interpolate":"rgb"}}}}]}
